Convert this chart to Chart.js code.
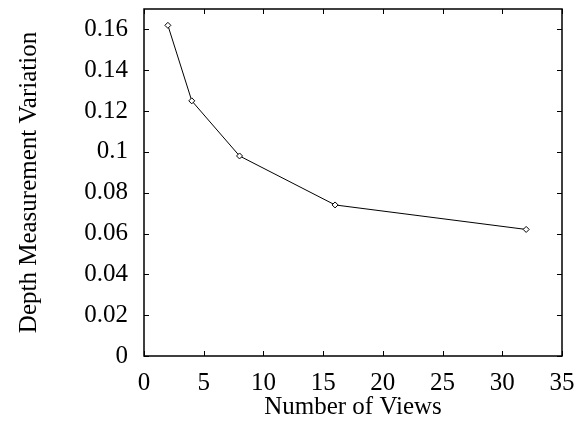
<!DOCTYPE html>
<html>
<head>
<meta charset="utf-8">
<script src="https://cdn.jsdelivr.net/npm/chart.js@4"></script>
<style>
  html, body { margin: 0; padding: 0; background: #fff; }
  #wrap { width: 574px; height: 422px; }
</style>
</head>
<body>
<div id="wrap"><canvas id="chart" width="574" height="422"></canvas></div>
<script>
// values
var views = [2, 4, 8, 16, 32];
var variation = [0.162, 0.125, 0.098, 0.074, 0.062];
var xTicks = [0, 5, 10, 15, 20, 25, 30, 35];
var yTicks = [0, 0.02, 0.04, 0.06, 0.08, 0.1, 0.12, 0.14, 0.16];

var serif = "'Liberation Serif', 'DejaVu Serif', serif";

// frame around the plot + inward ticks on all four sides (gnuplot look)
var framePlugin = {
    id: 'frame',
    afterDraw: function (chart) {
        var ctx = chart.ctx, a = chart.chartArea;
        var xs = chart.scales.x, ys = chart.scales.y;
        var len = 5;
        ctx.save();
        ctx.strokeStyle = '#000';
        ctx.lineWidth = 1;
        ctx.beginPath();
        xTicks.forEach(function (v) {
            var px = Math.round(xs.getPixelForValue(v)) + 0.5;
            ctx.moveTo(px, a.bottom); ctx.lineTo(px, a.bottom - len);
            ctx.moveTo(px, a.top); ctx.lineTo(px, a.top + len);
        });
        yTicks.forEach(function (v) {
            var py = Math.round(ys.getPixelForValue(v)) + 0.5;
            ctx.moveTo(a.left, py); ctx.lineTo(a.left + len, py);
            ctx.moveTo(a.right, py); ctx.lineTo(a.right - len, py);
        });
        ctx.stroke();
        ctx.lineWidth = 1.5;
        ctx.strokeRect(a.left, a.top, a.right - a.left, a.bottom - a.top);
        ctx.restore();
    }
};

var ctx = document.getElementById('chart').getContext('2d');
var chart = new Chart(ctx, {
    type: 'line',
    data: {
        datasets: [{
            data: views.map(function (v, i) { return { x: v, y: variation[i] }; }),
            borderColor: '#000',
            borderWidth: 1,
            pointStyle: 'rectRot',
            pointRadius: 3,
            pointBorderWidth: 1,
            pointBorderColor: '#000',
            pointBackgroundColor: '#fff',
            tension: 0,
            fill: false
        }]
    },
    options: {
        responsive: false,
        animation: false,
        layout: { padding: { top: 9, right: 12, left: 0, bottom: 0 } },
        plugins: {
            legend: { display: false },
            tooltip: { enabled: false }
        },
        scales: {
            x: {
                type: 'linear',
                min: 0,
                max: 35,
                afterBuildTicks: function (s) { s.ticks = xTicks.map(function (v) { return { value: v }; }); },
                afterFit: function (s) { s.height = 66; s.paddingLeft = 0; s.paddingRight = 0; },
                grid: { display: false, drawTicks: false },
                border: { display: false },
                ticks: {
                    padding: 12,
                    color: '#000',
                    font: { family: serif, size: 25 },
                    maxRotation: 0,
                    callback: function (v) { return String(v); }
                },
                title: {
                    display: true,
                    text: 'Number of Views',
                    color: '#000',
                    font: { family: serif, size: 25 },
                    padding: { top: 0, bottom: 0 }
                }
            },
            y: {
                type: 'linear',
                min: 0,
                max: 0.17,
                afterBuildTicks: function (s) { s.ticks = yTicks.map(function (v) { return { value: v }; }); },
                afterFit: function (s) { s.width = 144; s.paddingTop = 0; s.paddingBottom = 0; },
                grid: { display: false, drawTicks: false },
                border: { display: false },
                ticks: {
                    padding: 16,
                    color: '#000',
                    font: { family: serif, size: 25 },
                    callback: function (v) { return String(Math.round(v * 100) / 100); }
                },
                title: {
                    display: true,
                    text: 'Depth Measurement Variation',
                    color: '#000',
                    font: { family: serif, size: 25 },
                    padding: { top: 14, bottom: 0 }
                }
            }
        }
    },
    plugins: [framePlugin]
});
</script>
</body>
</html>
